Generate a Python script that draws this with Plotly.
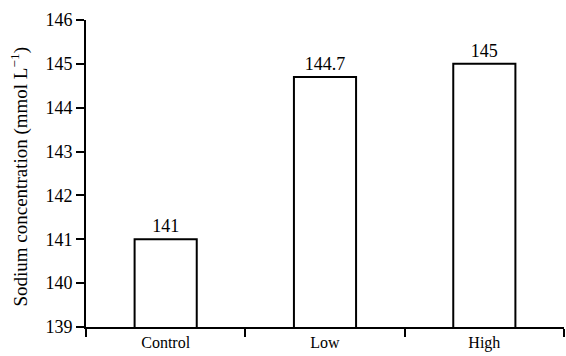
import plotly.graph_objects as go

groups = ["Control", "Low", "High"]
sodium = [141.0, 144.7, 145.0]
value_labels = ["141", "144.7", "145"]
y_ticks = [139, 140, 141, 142, 143, 144, 145, 146]
y_title = "Sodium concentration (mmol L<sup>−1</sup>)"

serif = "Liberation Serif"

fig = go.Figure(
    go.Bar(
        x=groups,
        y=sodium,
        width=0.39,
        marker=dict(color="white", line=dict(color="black", width=2)),
        text=value_labels,
        textposition="outside",
        textfont=dict(family=serif, size=18, color="black"),
        cliponaxis=True,
    )
)

fig.update_layout(
    width=566,
    height=356,
    margin=dict(l=86, r=2, t=20, b=29),
    paper_bgcolor="white",
    plot_bgcolor="white",
    showlegend=False,
    font=dict(family=serif, size=17, color="black"),
    xaxis=dict(
        type="category",
        range=[-0.5, 2.5],
        automargin=False,
        showline=True,
        linecolor="black",
        linewidth=2,
        ticks="outside",
        tickson="boundaries",
        ticklen=8,
        tickwidth=2,
        tickcolor="black",
        showgrid=False,
        ticklabelstandoff=0,
        tickfont=dict(family=serif, size=16, color="black"),
    ),
    yaxis=dict(
        range=[139, 146],
        tickvals=y_ticks,
        automargin=False,
        showline=True,
        linecolor="black",
        linewidth=2,
        ticks="outside",
        ticklen=8,
        tickwidth=2,
        tickcolor="black",
        showgrid=False,
        zeroline=False,
        tickfont=dict(family=serif, size=18, color="black"),
    ),
    annotations=[
        dict(
            text=y_title,
            textangle=-90,
            xref="paper",
            yref="paper",
            x=-66 / 478,
            y=0.49,
            xanchor="center",
            yanchor="middle",
            showarrow=False,
            font=dict(family=serif, size=19, color="black"),
        )
    ],
)

fig.write_html("out.html")
